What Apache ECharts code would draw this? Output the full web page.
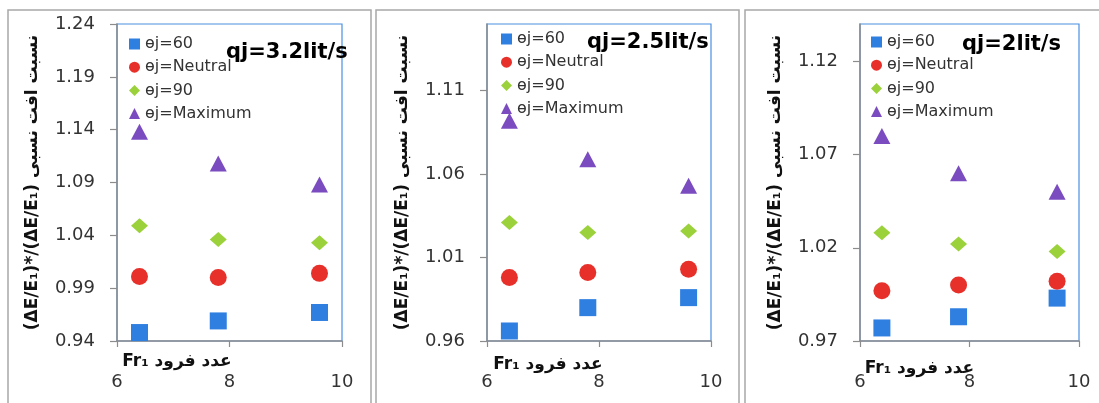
<!DOCTYPE html>
<html>
<head>
<meta charset="utf-8">
<script src="https://cdn.jsdelivr.net/npm/echarts@6/dist/echarts.min.js"></script>
<style>html,body{margin:0;padding:0;background:#fff;}#c{width:1099px;height:403px;}</style>
</head>
<body>
<div id="c"></div>
<script>
// ---- data ----
var xFr = [6.4, 7.8, 9.6];
var seriesNames = ['ɵj=60', 'ɵj=Neutral', 'ɵj=90', 'ɵj=Maximum'];
var panelTitles = ['qj=3.2lit/s', 'qj=2.5lit/s', 'qj=2lit/s'];

var p1_60  = [0.948, 0.959, 0.967];
var p1_neu = [1.001, 1.000, 1.004];
var p1_90  = [1.049, 1.036, 1.033];
var p1_max = [1.138, 1.108, 1.088];

var p2_60  = [0.966, 0.980, 0.986];
var p2_neu = [0.998, 1.001, 1.003];
var p2_90  = [1.031, 1.025, 1.026];
var p2_max = [1.092, 1.069, 1.053];

var p3_60  = [0.977, 0.983, 0.993];
var p3_neu = [0.997, 1.000, 1.002];
var p3_90  = [1.028, 1.022, 1.018];
var p3_max = [1.080, 1.060, 1.050];

var xTicks = [6, 8, 10];
var yTicks1 = [0.94, 0.99, 1.04, 1.09, 1.14, 1.19, 1.24];
var yTicks2 = [0.96, 1.01, 1.06, 1.11];
var yTicks3 = [0.97, 1.02, 1.07, 1.12];
var yRange1 = [0.94, 1.24];
var yRange2 = [0.96, 1.15];
var yRange3 = [0.97, 1.14];

var yTitle = '(ΔE/E₁)*/(ΔE/E₁) نسبت افت نسبی';
var xTitle = 'Fr₁ عدد فرود';

// ---- layout / style ----
var panels = [
  {data: [p1_60, p1_neu, p1_90, p1_max], yTicks: yTicks1, yRange: yRange1,
   grid: {left: 117, top: 24, width: 225, height: 317},
   legend: {left: 129, top: 36}, title: {left: 226, top: 42},
   xNameGap: 12, xNamePad: 105, xLabelMargin: 32},
  {data: [p2_60, p2_neu, p2_90, p2_max], yTicks: yTicks2, yRange: yRange2,
   grid: {left: 487, top: 24, width: 224, height: 317},
   legend: {left: 501, top: 31}, title: {left: 587, top: 32},
   xNameGap: 15, xNamePad: 102, xLabelMargin: 32},
  {data: [p3_60, p3_neu, p3_90, p3_max], yTicks: yTicks3, yRange: yRange3,
   grid: {left: 860, top: 24, width: 219, height: 317},
   legend: {left: 871, top: 34}, title: {left: 962, top: 34},
   xNameGap: 19, xNamePad: 100, xLabelMargin: 32}
];
var colors = ['#2f7fe0', '#e8302a', '#9bd13b', '#7a4cc0'];
var symbols = ['rect', 'circle', 'diamond', 'triangle'];
var sizes = [[17, 17], [17, 17], [17, 15], [17, 16]];
var FONT = 'DejaVu Sans';

var grids = [], xAxes = [], yAxes = [], series = [], legends = [], titles = [], graphics = [];
var frames = [[8, 363], [376, 363], [745, 400]];
frames.forEach(function (f) {
  graphics.push({type: 'rect', shape: {x: f[0], y: 10, width: f[1], height: 420},
    style: {fill: 'none', stroke: '#a8a8a8', lineWidth: 1.5}, silent: true, z: -1});
});

panels.forEach(function (p, i) {
  grids.push(Object.assign({show: true, borderColor: '#4a90e2', borderWidth: 1.2,
    backgroundColor: 'transparent', containLabel: false, outerBoundsMode: 'none'}, p.grid));
  xAxes.push({
    type: 'value', gridIndex: i, min: 6, max: 10,
    axisLine: {show: true, lineStyle: {color: '#8c8c8c', width: 1.5}},
    axisTick: {show: true, length: 6, customValues: xTicks, lineStyle: {color: '#8c8c8c', width: 1.2}},
    axisLabel: {customValues: xTicks, margin: p.xLabelMargin, fontFamily: FONT, fontSize: 18, color: '#333'},
    splitLine: {show: false},
    name: xTitle, nameLocation: 'middle', nameGap: p.xNameGap, nameMoveOverlap: false,
    nameTextStyle: {fontFamily: FONT, fontSize: 17, fontWeight: 'bold', color: '#111',
      padding: [0, p.xNamePad, 0, 0], verticalAlign: 'top'}
  });
  yAxes.push({
    type: 'value', gridIndex: i, min: p.yRange[0], max: p.yRange[1],
    axisLine: {show: true, lineStyle: {color: '#8c8c8c', width: 1.5}},
    axisTick: {show: true, length: 7, customValues: p.yTicks, lineStyle: {color: '#8c8c8c', width: 1.2}},
    axisLabel: {customValues: p.yTicks, margin: 22, fontFamily: FONT, fontSize: 18, color: '#333',
      formatter: function (v) { return v.toFixed(2); }},
    splitLine: {show: false},
    name: yTitle, nameLocation: 'middle', nameRotate: 90, nameGap: 76, nameMoveOverlap: false,
    nameTextStyle: {fontFamily: FONT, fontSize: 17, fontWeight: 'bold', color: '#111'}
  });
  var names = [];
  p.data.forEach(function (vals, k) {
    var nm = seriesNames[k];
    names.push(nm);
    series.push({
      type: 'scatter', name: nm, xAxisIndex: i, yAxisIndex: i,
      symbol: symbols[k], symbolSize: sizes[k],
      itemStyle: {color: colors[k], opacity: 1},
      data: xFr.map(function (x, j) { return [x, vals[j]]; })
    });
  });
  legends.push({
    orient: 'vertical', left: p.legend.left, top: p.legend.top,
    itemWidth: 11, itemHeight: 11, itemGap: 7.2, padding: 0,
    data: names.map(function (n) { return {name: n}; }),
    textStyle: {fontFamily: FONT, fontSize: 16, color: '#333', padding: [0, 0, 0, 0], lineHeight: 16},
    selectedMode: false
  });
  titles.push({text: panelTitles[i], left: p.title.left, top: p.title.top, padding: 0,
    textStyle: {fontFamily: FONT, fontSize: 21, fontWeight: 'bold', color: '#000'}});
});

var chart = echarts.init(document.getElementById('c'), null, {renderer: 'canvas'});
chart.setOption({
  animation: false,
  backgroundColor: '#fff',
  title: titles,
  grid: grids,
  xAxis: xAxes,
  yAxis: yAxes,
  legend: legends,
  series: series,
  graphic: graphics
});
</script>
</body>
</html>
